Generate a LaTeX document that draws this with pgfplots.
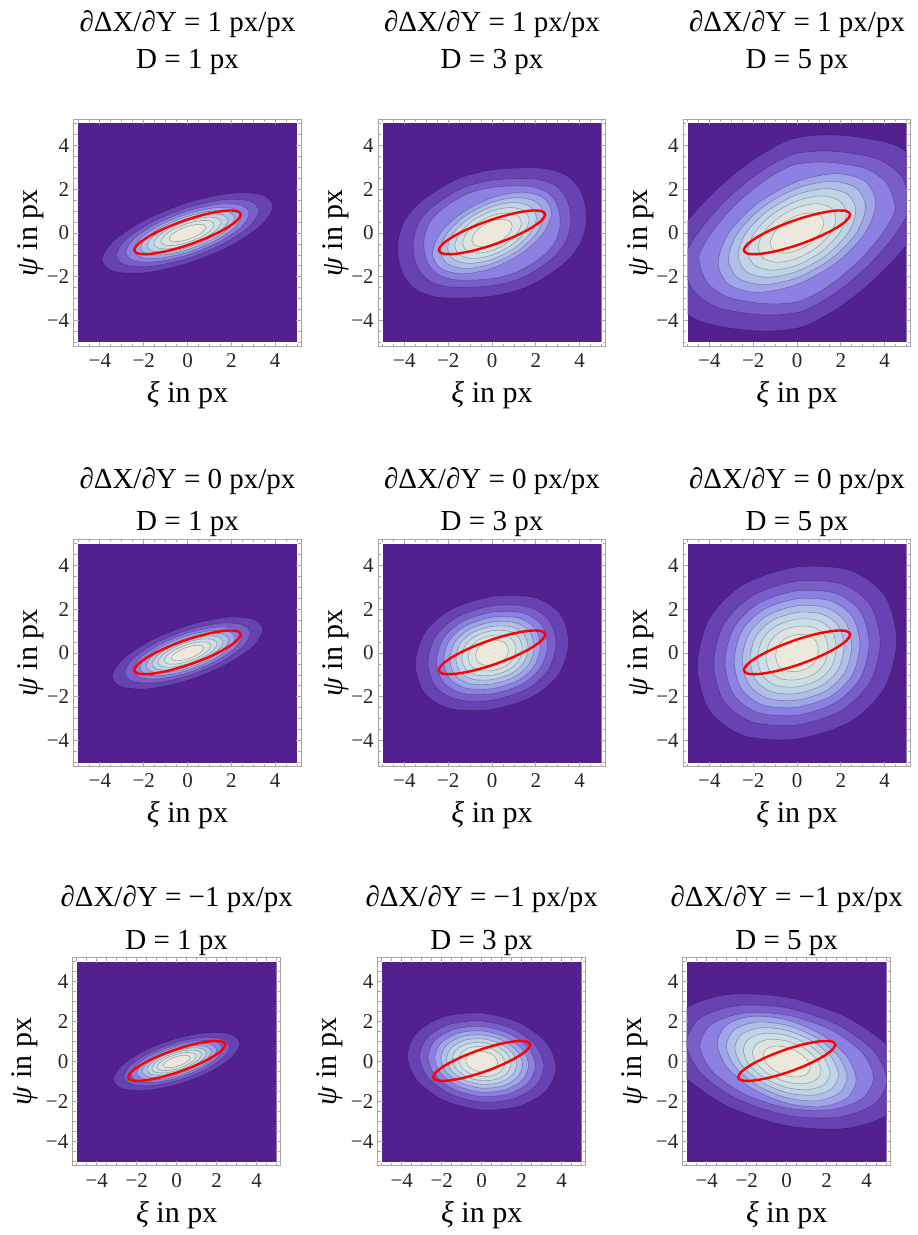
\documentclass[border=0pt]{standalone}
\usepackage{pgfplots}
\pgfplotsset{compat=1.18}
\usepackage{pgfplotstable}
\usepackage{fontspec}
\setmainfont{Liberation Serif}

\definecolor{c0}{HTML}{52208F}
\definecolor{c1}{HTML}{6842B2}
\definecolor{c2}{HTML}{7A5EC8}
\definecolor{c3}{HTML}{8C80E2}
\definecolor{c4}{HTML}{A0A4E8}
\definecolor{c5}{HTML}{B0BEE8}
\definecolor{c6}{HTML}{C0D4E8}
\definecolor{c7}{HTML}{CEDEE6}
\definecolor{c8}{HTML}{DCE4E2}
\definecolor{c9}{HTML}{ECE8DC}
\definecolor{fgray}{HTML}{A6A6A6}

% outer contour of each panel (row, column); inner contours are scaled copies
\pgfplotstableread{
x y
3.9 1.221
3.377 1.752
1.95 1.815
0 1.390
-1.95 0.593
-3.377 -0.362
-3.9 -1.221
-3.377 -1.752
-1.95 -1.815
0 -1.390
1.95 -0.593
3.377 0.362
}\shapeAA
\pgfplotstableread{
x y
4.3 0.45
4.25 1.3
4.0 2.0
3.45 2.6
2.5 2.93
1.2 2.97
-0.2 2.85
-1.5 2.5
-2.6 1.9
-3.5 1.2
-4.05 0.45
-4.3 -0.45
-4.25 -1.3
-4.0 -2.0
-3.45 -2.6
-2.5 -2.93
-1.2 -2.97
0.2 -2.85
1.5 -2.5
2.6 -1.9
3.5 -1.2
4.05 -0.45
}\shapeAB
\pgfplotstableread{
x y
4.3 1.475
3.724 2.555
2.15 2.951
0 2.555
-2.15 1.475
-3.724 0.001
-4.3 -1.475
-3.724 -2.555
-2.15 -2.951
0 -2.555
2.15 -1.475
3.724 -0.001
}\innerAB
\pgfplotstableread{
x y
6.2 1.6
5.7 3.1
4.5 4.0
3.0 4.35
1.4 4.48
-0.2 4.3
-1.6 3.6
-2.8 2.75
-4.0 1.67
-5.0 0.55
-5.8 -0.6
-6.2 -1.6
-5.7 -3.1
-4.5 -4.0
-3.0 -4.35
-1.4 -4.48
0.2 -4.3
1.6 -3.6
2.8 -2.75
4.0 -1.67
5.0 -0.55
5.8 0.6
}\shapeAC
\pgfplotstableread{
x y
5.7 2.15
4.936 3.724
2.85 4.3
0 3.724
-2.85 2.15
-4.936 0
-5.7 -2.15
-4.936 -3.724
-2.85 -4.3
0 -3.724
2.85 -2.15
4.936 0
}\innerAC
\pgfplotstableread{
x y
3.44 1.073
2.979 1.556
1.72 1.622
0 1.254
-1.72 0.550
-2.979 -0.302
-3.44 -1.073
-2.979 -1.556
-1.72 -1.622
0 -1.254
1.72 -0.550
2.979 0.302
}\shapeBA
\pgfplotstableread{
x y
3.5 0.526
3.077 1.843
1.876 2.547
0 2.577
-1.876 1.983
-3.077 0.919
-3.5 -0.526
-3.077 -1.843
-1.876 -2.547
0 -2.577
1.876 -1.983
3.077 -0.919
}\shapeBB
\pgfplotstableread{
x y
4.55 0.596
4.0 2.628
2.439 3.769
0 3.925
-2.439 3.131
-4.0 1.580
-4.55 -0.596
-4.0 -2.628
-2.439 -3.769
0 -3.925
2.439 -3.131
4.0 -1.580
}\shapeBC
\pgfplotstableread{
x y
3.16 0.891
2.737 1.350
1.58 1.447
0 1.157
-1.58 0.557
-2.737 -0.194
-3.16 -0.891
-2.737 -1.350
-1.58 -1.447
0 -1.157
1.58 -0.557
2.737 0.194
}\shapeCA
\pgfplotstableread{
x y
3.72 -0.293
3.222 0.958
1.86 1.951
0 2.423
-1.86 2.245
-3.222 1.466
-3.72 0.293
-3.222 -0.958
-1.86 -1.951
0 -2.423
1.86 -2.245
3.222 -1.466
}\shapeCB
\pgfplotstableread{
x y
6.0 -1.122
5.196 0.633
3.0 2.219
0 3.21
-3.0 3.341
-5.196 2.577
-6.0 1.122
-5.196 -0.633
-3.0 -2.219
0 -3.21
3.0 -3.341
5.196 -2.577
}\shapeCC
\pgfplotstableread{
x y
5.5 -1.44
4.763 0.403
2.75 2.138
0 3.30
-2.75 3.578
-4.763 2.897
-5.5 1.44
-4.763 -0.403
-2.75 -2.138
0 -3.30
2.75 -3.578
4.763 -2.897
}\innerCC
% red ellipse (same in every panel)
\pgfplotstableread{
x y
2.43 0.84
2.245 1.003
1.718 1.017
0.930 0.881
0 0.616
-0.930 0.261
-1.718 -0.129
-2.245 -0.494
-2.43 -0.78
-2.245 -0.943
-1.718 -0.957
-0.930 -0.821
0 -0.556
0.930 -0.201
1.718 0.189
2.245 0.554
}\redell

\pgfplotsset{
  cont/.style={smooth cycle, draw=black, draw opacity=0.28, line width=0.3pt},
  fillaxis/.style={scale only axis, hide axis, anchor=center,
    xmin=-5, xmax=5, ymin=-5, ymax=5},
  frameaxis/.style={scale only axis, anchor=center,
    xmin=-5.2, xmax=5.2, ymin=-5.2, ymax=5.2,
    axis line style={draw=fgray, line width=0.5pt},
    xtick={-4,-2,0,2,4}, ytick={-4,-2,0,2,4},
    xticklabels={−4,−2,0,2,4}, yticklabels={−4,−2,0,2,4},
    minor xtick={-5,-4.5,-3.5,-3,-2.5,-1.5,-1,-0.5,0.5,1,1.5,2.5,3,3.5,4.5,5},
    minor ytick={-5,-4.5,-3.5,-3,-2.5,-1.5,-1,-0.5,0.5,1,1.5,2.5,3,3.5,4.5,5},
    tick align=inside, xtick pos=both, ytick pos=both,
    xticklabel pos=lower, yticklabel pos=left,
    major tick length=2.5pt, minor tick length=1.5pt,
    every tick/.style={draw=fgray, line width=0.4pt},
    ticklabel style={font=\fontsize{10.5}{12}\selectfont, text=black!85, inner sep=0pt},
    yticklabel style={anchor=east, xshift=-2pt},
    xlabel={\textit{ξ} in px}, ylabel={\textit{ψ} in px},
    label style={font=\fontsize{15}{18}\selectfont, inner sep=0pt},
  },
  rowAB/.style={width=113.9pt, height=113.9pt,
    xticklabel style={anchor=base, yshift=-10.5pt},
    xlabel style={at={(axis description cs:0.5,-0.2458)}, anchor=base},
    ylabel style={at={(axis description cs:-0.158,0.5)}, anchor=base}},
  rowC/.style={width=104pt, height=104pt,
    xticklabel style={anchor=base, yshift=-11pt},
    xlabel style={at={(axis description cs:0.5,-0.274)}, anchor=base},
    ylabel style={at={(axis description cs:-0.197,0.5)}, anchor=base}},
}

\newcommand\bg{\addplot[fill=c0, draw=none] coordinates {(-5,-5) (5,-5) (5,5) (-5,5)};}
% #1: outer shape (levels 1-3), #2: inner shape (levels 4-9)
\newcommand\levels[2]{%
  \addplot[cont, fill=c1] table {#1};
  \addplot[cont, fill=c2] table[x expr=0.836*\thisrow{x}, y expr=0.836*\thisrow{y}] {#1};
  \addplot[cont, fill=c3] table[x expr=0.723*\thisrow{x}, y expr=0.723*\thisrow{y}] {#1};
  \addplot[cont, fill=c4] table[x expr=0.631*\thisrow{x}, y expr=0.631*\thisrow{y}] {#2};
  \addplot[cont, fill=c5] table[x expr=0.549*\thisrow{x}, y expr=0.549*\thisrow{y}] {#2};
  \addplot[cont, fill=c6] table[x expr=0.471*\thisrow{x}, y expr=0.471*\thisrow{y}] {#2};
  \addplot[cont, fill=c7] table[x expr=0.394*\thisrow{x}, y expr=0.394*\thisrow{y}] {#2};
  \addplot[cont, fill=c8] table[x expr=0.311*\thisrow{x}, y expr=0.311*\thisrow{y}] {#2};
  \addplot[cont, fill=c9] table[x expr=0.214*\thisrow{x}, y expr=0.214*\thisrow{y}] {#2};
}
\newcommand\redplot{\addplot[red, line width=1.2pt, smooth cycle] table {\redell};}
\newcommand\ttl{\fontsize{14.5}{17}\selectfont}

\begin{document}
\begin{tikzpicture}
\path[use as bounding box] (0,0) rectangle (458.5pt,-617.5pt);

% ---------- row 1 ----------
\begin{axis}[fillaxis, width=109.5pt, height=109.5pt, at={(93.75pt,-116.5pt)}] \bg \levels{\shapeAA}{\shapeAA} \end{axis}
\begin{axis}[frameaxis, rowAB, at={(93.75pt,-116.5pt)}] \redplot \end{axis}
\begin{axis}[fillaxis, width=109.5pt, height=109.5pt, at={(246pt,-116.5pt)}] \bg \levels{\shapeAB}{\innerAB} \end{axis}
\begin{axis}[frameaxis, rowAB, at={(246pt,-116.5pt)}] \redplot \end{axis}
\begin{axis}[fillaxis, width=109.5pt, height=109.5pt, at={(398.5pt,-116.5pt)}] \bg \levels{\shapeAC}{\innerAC} \end{axis}
\begin{axis}[frameaxis, rowAB, at={(398.5pt,-116.5pt)}] \redplot \end{axis}
\node[anchor=base, font=\ttl] at (93.75pt,-16pt) {∂ΔX/∂Y = 1 px/px};
\node[anchor=base, font=\ttl] at (93.75pt,-34.5pt) {D = 1 px};
\node[anchor=base, font=\ttl] at (246pt,-16pt) {∂ΔX/∂Y = 1 px/px};
\node[anchor=base, font=\ttl] at (246pt,-34.5pt) {D = 3 px};
\node[anchor=base, font=\ttl] at (398.5pt,-16pt) {∂ΔX/∂Y = 1 px/px};
\node[anchor=base, font=\ttl] at (398.5pt,-34.5pt) {D = 5 px};

% ---------- row 2 ----------
\begin{axis}[fillaxis, width=109.5pt, height=109.5pt, at={(93.75pt,-326.5pt)}] \bg \levels{\shapeBA}{\shapeBA} \end{axis}
\begin{axis}[frameaxis, rowAB, at={(93.75pt,-326.5pt)}] \redplot \end{axis}
\begin{axis}[fillaxis, width=109.5pt, height=109.5pt, at={(246pt,-326.5pt)}] \bg \levels{\shapeBB}{\shapeBB} \end{axis}
\begin{axis}[frameaxis, rowAB, at={(246pt,-326.5pt)}] \redplot \end{axis}
\begin{axis}[fillaxis, width=109.5pt, height=109.5pt, at={(398.5pt,-326.5pt)}] \bg \levels{\shapeBC}{\shapeBC} \end{axis}
\begin{axis}[frameaxis, rowAB, at={(398.5pt,-326.5pt)}] \redplot \end{axis}
\node[anchor=base, font=\ttl] at (93.75pt,-244pt) {∂ΔX/∂Y = 0 px/px};
\node[anchor=base, font=\ttl] at (93.75pt,-265pt) {D = 1 px};
\node[anchor=base, font=\ttl] at (246pt,-244pt) {∂ΔX/∂Y = 0 px/px};
\node[anchor=base, font=\ttl] at (246pt,-265pt) {D = 3 px};
\node[anchor=base, font=\ttl] at (398.5pt,-244pt) {∂ΔX/∂Y = 0 px/px};
\node[anchor=base, font=\ttl] at (398.5pt,-265pt) {D = 5 px};

% ---------- row 3 ----------
\begin{axis}[fillaxis, width=100pt, height=100pt, at={(88.35pt,-530.75pt)}] \bg \levels{\shapeCA}{\shapeCA} \end{axis}
\begin{axis}[frameaxis, rowC, at={(88.35pt,-530.75pt)}] \redplot \end{axis}
\begin{axis}[fillaxis, width=100pt, height=100pt, at={(240.85pt,-530.75pt)}] \bg \levels{\shapeCB}{\shapeCB} \end{axis}
\begin{axis}[frameaxis, rowC, at={(240.85pt,-530.75pt)}] \redplot \end{axis}
\begin{axis}[fillaxis, width=100pt, height=100pt, at={(393.35pt,-530.75pt)}] \bg \levels{\shapeCC}{\innerCC} \end{axis}
\begin{axis}[frameaxis, rowC, at={(393.35pt,-530.75pt)}] \redplot \end{axis}
\node[anchor=base, font=\ttl] at (88.35pt,-453pt) {∂ΔX/∂Y = −1 px/px};
\node[anchor=base, font=\ttl] at (88.35pt,-474.5pt) {D = 1 px};
\node[anchor=base, font=\ttl] at (240.85pt,-453pt) {∂ΔX/∂Y = −1 px/px};
\node[anchor=base, font=\ttl] at (240.85pt,-474.5pt) {D = 3 px};
\node[anchor=base, font=\ttl] at (393.35pt,-453pt) {∂ΔX/∂Y = −1 px/px};
\node[anchor=base, font=\ttl] at (393.35pt,-474.5pt) {D = 5 px};
\end{tikzpicture}
\end{document}
